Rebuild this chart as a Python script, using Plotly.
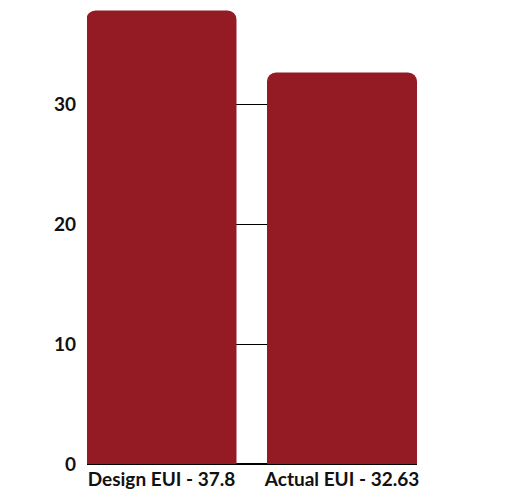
import plotly.graph_objects as go

categories = ["Design EUI - 37.8", "Actual EUI - 32.63"]
values = [37.8, 32.63]
tick_vals = [0, 10, 20, 30]

fig = go.Figure(go.Bar(
    x=categories, y=values,
    marker=dict(color="#941B24", cornerradius=9, line=dict(width=0)),
    hoverinfo="skip",
))

fig.update_layout(
    width=512, height=502,
    margin=dict(l=79, r=103, t=0, b=46, autoexpand=False),
    paper_bgcolor="white", plot_bgcolor="white",
    bargap=0.169,
    showlegend=False,
    font=dict(family="Lato", size=19, color="#111111"),
)
fig.update_xaxes(
    range=[-0.4127, 1.4155], showgrid=False, showline=False, zeroline=False,
    tickfont=dict(family="Lato", size=19, weight="bold", color="#111111"),
    ticks="", ticklabelstandoff=2,
)
fig.update_yaxes(
    range=[0, 38.0], tickvals=tick_vals, showgrid=True, gridcolor="black", gridwidth=1.3,
    zeroline=True, zerolinecolor="black", zerolinewidth=1.5, showline=False,
    tickfont=dict(family="Lato", size=19, weight="bold", color="#111111"),
    ticks="", ticklabelstandoff=10,
)
fig.write_html("out.html")
